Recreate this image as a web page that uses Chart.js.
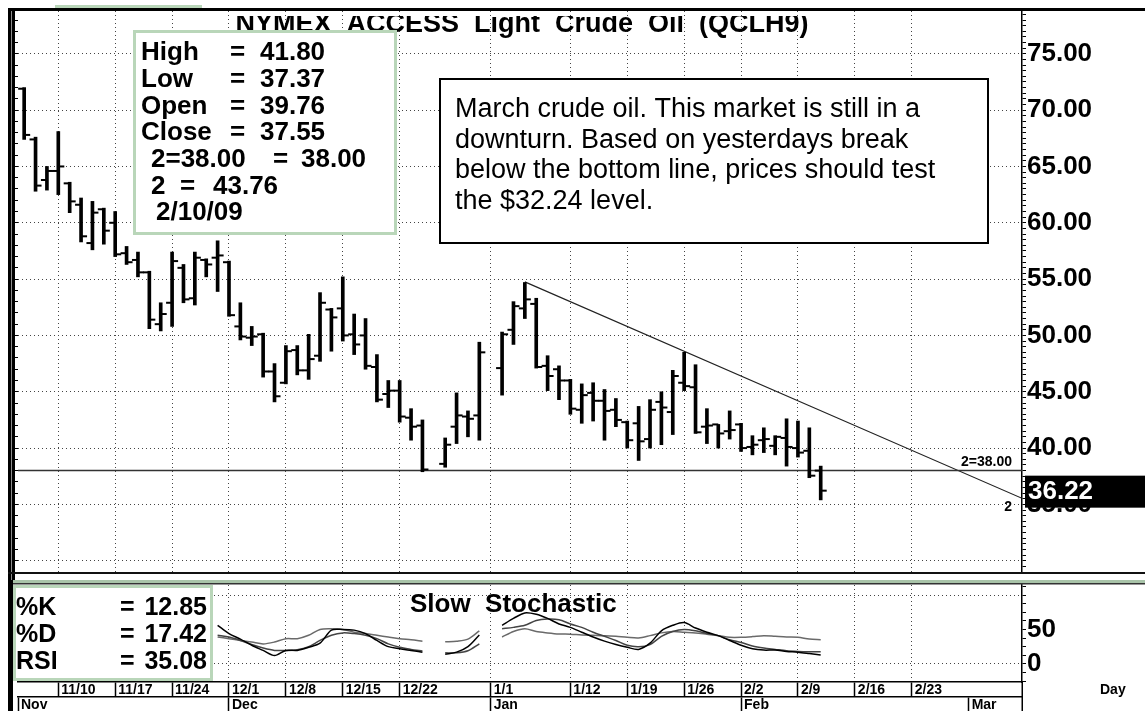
<!DOCTYPE html>
<html>
<head>
<meta charset="utf-8">
<script src="https://cdn.jsdelivr.net/npm/chart.js@4.4.1/dist/chart.umd.min.js"></script>
<style>
  html, body { margin: 0; padding: 0; background: #fff; }
  #wrap { position: relative; width: 1145px; height: 711px; overflow: hidden; background: #fff; }
  #price { position: absolute; left: 0; top: 0; }
  #stoch { position: absolute; left: 0; top: 580px; }
</style>
</head>
<body>
<div id="wrap">
  <canvas id="price" width="1145" height="580"></canvas>
  <canvas id="stoch" width="1145" height="131"></canvas>
</div>
<script>
// daily bars, NYMEX ACCESS light crude (QCLH9)
var dates = [
  '2008-11-05', '2008-11-06', '2008-11-07',
  '2008-11-10', '2008-11-11', '2008-11-12', '2008-11-13', '2008-11-14',
  '2008-11-17', '2008-11-18', '2008-11-19', '2008-11-20', '2008-11-21',
  '2008-11-24', '2008-11-25', '2008-11-26', '2008-11-27', '2008-11-28',
  '2008-12-01', '2008-12-02', '2008-12-03', '2008-12-04', '2008-12-05',
  '2008-12-08', '2008-12-09', '2008-12-10', '2008-12-11', '2008-12-12',
  '2008-12-15', '2008-12-16', '2008-12-17', '2008-12-18', '2008-12-19',
  '2008-12-22', '2008-12-23', '2008-12-24', '2008-12-26',
  '2008-12-29', '2008-12-30', '2008-12-31', '2009-01-02',
  '2009-01-05', '2009-01-06', '2009-01-07', '2009-01-08', '2009-01-09',
  '2009-01-12', '2009-01-13', '2009-01-14', '2009-01-15', '2009-01-16',
  '2009-01-19', '2009-01-20', '2009-01-21', '2009-01-22', '2009-01-23',
  '2009-01-26', '2009-01-27', '2009-01-28', '2009-01-29', '2009-01-30',
  '2009-02-02', '2009-02-03', '2009-02-04', '2009-02-05', '2009-02-06',
  '2009-02-09', '2009-02-10', '2009-02-11'
];
var open = [
  71.9, 67.4, 63.8, 64.6, 63.5, 61.6, 58.2, 61.2, 60.0, 57.3,
  56.7, 55.6, 51.0, 52.9, 56.0, 53.3, 56.7, 56.9, 56.5, 50.8,
  49.8, 50.1, 46.8, 45.8, 48.7, 46.9, 48.2, 52.3, 52.4, 50.1,
  50.0, 47.2, 44.8, 45.1, 42.7, 42.0, 38.6, 41.9, 42.8, 42.9,
  47.1, 50.5, 52.4, 52.8, 47.3, 47.0, 46.0, 43.4, 44.9, 44.2,
  43.4, 42.3, 42.2, 40.8, 44.1, 43.2, 45.8, 45.4, 41.9, 42.1,
  41.5, 42.1, 40.1, 40.7, 40.2, 40.9, 40.0, 39.76, 38.0
];
var high = [
  72.0, 67.6, 65.0, 68.1, 63.6, 62.2, 61.9, 61.3, 61.0, 57.9,
  57.4, 55.7, 52.9, 57.4, 56.3, 57.4, 56.8, 58.4, 56.6, 52.9,
  50.8, 50.2, 47.5, 49.1, 49.1, 50.1, 53.8, 52.4, 55.2, 51.9,
  51.5, 48.3, 46.0, 46.0, 43.5, 42.5, 40.9, 44.9, 43.3, 49.4,
  50.3, 53.0, 54.7, 53.3, 48.2, 47.3, 46.1, 45.7, 45.8, 45.2,
  44.4, 42.4, 43.7, 44.3, 45.0, 46.9, 48.5, 47.4, 43.5, 42.1,
  43.3, 42.2, 41.1, 41.8, 41.1, 42.6, 42.4, 41.80, 38.4
];
var low = [
  67.4, 62.8, 62.9, 62.5, 60.9, 58.3, 57.6, 58.1, 57.0, 56.3,
  55.2, 50.6, 50.4, 50.8, 52.9, 52.7, 55.2, 53.9, 51.7, 49.6,
  49.1, 46.3, 44.1, 45.7, 46.5, 46.1, 47.7, 48.6, 49.5, 48.3,
  47.0, 44.1, 43.6, 42.3, 40.7, 37.9, 38.3, 40.4, 41.0, 40.7,
  44.7, 49.2, 51.5, 47.1, 45.1, 44.3, 43.0, 42.2, 42.4, 40.7,
  41.9, 40.0, 38.9, 40.0, 40.3, 41.2, 45.1, 41.3, 40.4, 40.0,
  40.8, 39.7, 39.4, 39.6, 39.4, 38.4, 39.2, 37.37, 35.4
];
var close = [
  67.8, 63.3, 64.6, 65.0, 61.9, 58.8, 60.9, 59.3, 57.2, 56.5,
  55.6, 51.4, 51.9, 56.6, 53.2, 56.9, 56.3, 57.1, 51.8, 49.9,
  49.9, 46.8, 44.6, 48.6, 46.9, 47.9, 52.9, 51.6, 50.0, 49.2,
  47.3, 44.3, 45.1, 42.8, 41.9, 38.1, 40.3, 42.9, 42.6, 48.5,
  50.1, 52.6, 53.2, 47.2, 46.4, 46.0, 43.5, 44.7, 44.2, 43.3,
  42.5, 40.7, 40.6, 43.4, 43.6, 46.4, 45.5, 41.4, 42.0, 41.3,
  41.6, 40.0, 40.3, 40.8, 41.0, 40.1, 39.6, 37.55, 36.22
];

// lower panel, same days as above (hidden behind the readout box before 11/28)
var pctK = [
  null, null, null, null, null, null, null, null, null, null, null, null, null, null, null, null, null,
  56, 44, 36, 27, 19.5, 12, 19.5, 19.5, 24, 30, 49, 50, 49, 44, 34, 25, 22, 19.5, 17,
  14, 17, 25, 42,
  56, 66, 74, 72, 66, 58, 53, 46, 39, 33, 28, 24, 21, 30, 48, 56, 60, 52, 46, 41,
  34, 27, 22, 20, 20, 18, 17, 15, 12.85
];
var pctD = [
  null, null, null, null, null, null, null, null, null, null, null, null, null, null, null, null, null,
  41.5, 39, 34, 28, 23, 19.5, 19.5, 20.5, 25, 34, 41.5, 45, 44, 41.5, 36.6, 29, 24, 21, 18.5,
  16, 16, 19, 29,
  51, 53, 56, 63, 65, 64, 58, 53, 46, 40, 34, 27, 25, 28, 40, 47, 50, 48, 44, 41,
  35, 31, 26, 23, 21, 19, 18, 17.5, 17.42
];
var rsi = [
  null, null, null, null, null, null, null, null, null, null, null, null, null, null, null, null, null,
  39, 36.6, 34, 31.7, 29, 31.7, 36.6, 36.6, 41.5, 50, 51, 50, 46, 44, 41.5, 39, 36.6, 35, 33,
  32, 33, 36, 48,
  39, 47, 51, 47, 45, 43.5, 43, 42, 41.5, 41, 40, 38.6, 37.7, 41, 45, 47, 46, 45, 43, 41,
  38.6, 38.6, 39.6, 41, 40, 39, 38.6, 36, 35.08
];

var weekTicks = ['2008-11-10', '2008-11-17', '2008-11-24', '2008-12-01', '2008-12-08', '2008-12-15', '2008-12-22',
  '2009-01-01', '2009-01-12', '2009-01-19', '2009-01-26', '2009-02-02', '2009-02-09', '2009-02-16', '2009-02-23'];
var weekLabels = ['11/10', '11/17', '11/24', '12/1', '12/8', '12/15', '12/22', '1/1', '1/12', '1/19', '1/26', '2/2', '2/9', '2/16', '2/23'];
var monthTicks = ['2008-11-01', '2008-12-01', '2009-01-01', '2009-02-01', '2009-03-01'];
var monthLabels = ['Nov', 'Dec', 'Jan', 'Feb', 'Mar'];

// drawn lines
var supportLevel = 38.00;
var trendDates = ['2009-01-06', '2009-02-10'];
var trendValues = [54.75, 43.76];

var note = [
  'March crude oil. This market is still in a',
  'downturn. Based on yesterdays break',
  'below the bottom line, prices should test',
  'the $32.24 level.'
];

var FONT = "'Liberation Sans', Arial, Helvetica, sans-serif";
var X_MIN = 1.458, X_MAX = 89.69;
var P_MIN = 29.0, P_MAX = 78.8;
var S_MIN = -26.4, S_MAX = 114.6;

Chart.defaults.font.family = FONT;

// weekday slot counted from Monday 2008-11-03, weekend dates snap to the next Monday
function dayIndex(s) {
  var days = Math.round((Date.parse(s + 'T00:00:00Z') - Date.UTC(2008, 10, 3)) / 864e5);
  var w = Math.floor(days / 7), r = days - w * 7;
  return w * 5 + Math.min(r, 5);
}

var xDays = dates.map(dayIndex);

function trendAt(x) {
  var x0 = dayIndex(trendDates[0]), x1 = dayIndex(trendDates[1]);
  return trendValues[0] + (trendValues[1] - trendValues[0]) * (x - x0) / (x1 - x0);
}

// break the indicator lines over the holiday slots
function series(vals) {
  var out = [];
  for (var k = 0; k < vals.length; k++) {
    if (k > 0 && xDays[k] - xDays[k - 1] > 1) out.push({ x: xDays[k] - 1, y: null });
    out.push({ x: xDays[k], y: vals[k] });
  }
  return out;
}

function fixedTicks(from, to, step) {
  var t = [];
  for (var v = from; v <= to + 1e-9; v += step) t.push({ value: Math.round(v * 100) / 100 });
  return t;
}

function bold(size) { return 'bold ' + size + 'px ' + FONT; }

var priceOverlay = {
  id: 'priceOverlay',
  afterDraw: function(chart) {
    var ctx = chart.ctx, a = chart.chartArea, ys = chart.scales.y;
    ctx.save();

    // frame
    ctx.fillStyle = '#000';
    ctx.fillRect(8, 8, 1137, 3);
    ctx.fillRect(8, 8, 7, 572);
    ctx.fillStyle = '#8c8c8c';
    ctx.fillRect(11, 11, 1, 569);
    ctx.fillStyle = '#b9d6b9';
    ctx.fillRect(55, 5, 147, 3);
    ctx.fillStyle = '#111';
    ctx.fillRect(8, a.bottom, 1137, 2);

    // title, its top is cut off by the window edge
    ctx.save();
    ctx.beginPath();
    ctx.rect(a.left, 16, a.right - a.left, 40);
    ctx.clip();
    ctx.fillStyle = '#000';
    ctx.font = bold(27);
    ctx.textAlign = 'center';
    ctx.textBaseline = 'alphabetic';
    ctx.fillText('NYMEX  ACCESS  Light  Crude  Oil  (QCLH9)', 522, 32);
    ctx.restore();

    // readout box
    var k = dates.indexOf('2009-02-10');
    ctx.fillStyle = '#fff';
    ctx.fillRect(133, 30, 264, 205);
    ctx.strokeStyle = '#b9d6b9';
    ctx.lineWidth = 3;
    ctx.strokeRect(134.5, 31.5, 261, 202);
    ctx.fillStyle = '#000';
    ctx.font = bold(26);
    ctx.textAlign = 'left';
    ctx.textBaseline = 'middle';
    var rows = [
      [['High', 141], ['=', 230], [high[k].toFixed(2), 260]],
      [['Low', 141], ['=', 230], [low[k].toFixed(2), 260]],
      [['Open', 141], ['=', 230], [open[k].toFixed(2), 260]],
      [['Close', 141], ['=', 230], [close[k].toFixed(2), 260]],
      [['2=' + supportLevel.toFixed(2), 151], ['=', 273], [supportLevel.toFixed(2), 301]],
      [['2', 151], ['=', 180], [trendAt(xDays[k]).toFixed(2), 213]],
      [['2/10/09', 156]]
    ];
    rows.forEach(function(r, i) {
      r.forEach(function(p) { ctx.fillText(p[0], p[1], 53 + i * 26.7); });
    });

    // comment box
    ctx.fillStyle = '#fff';
    ctx.fillRect(439, 78, 550, 166);
    ctx.strokeStyle = '#000';
    ctx.lineWidth = 2;
    ctx.strokeRect(440, 79, 548, 164);
    ctx.fillStyle = '#000';
    ctx.font = '27px ' + FONT;
    note.forEach(function(line, i) { ctx.fillText(line, 455, 110 + i * 30.5); });

    // line labels
    var ySup = ys.getPixelForValue(supportLevel);
    ctx.font = bold(14);
    ctx.textAlign = 'right';
    ctx.textBaseline = 'alphabetic';
    ctx.fillText('2=' + supportLevel.toFixed(2), 1012, ySup - 5);
    ctx.fillText('2', 1012, ys.getPixelForValue(trendAt(X_MAX)) + 13);

    // last price marker
    var last = close[close.length - 1];
    var yl = ys.getPixelForValue(last);
    ctx.fillStyle = '#000';
    ctx.fillRect(a.right + 3, yl - 15, 1145 - a.right - 3, 32);
    ctx.fillStyle = '#fff';
    ctx.font = bold(26);
    ctx.textAlign = 'left';
    ctx.textBaseline = 'middle';
    ctx.fillText(last.toFixed(2), 1028, yl + 1);

    ctx.restore();
  }
};

var stochOverlay = {
  id: 'stochOverlay',
  afterDraw: function(chart) {
    var ctx = chart.ctx, a = chart.chartArea;
    ctx.save();

    // divider between panels and left edge
    ctx.fillStyle = '#a9c4a9';
    ctx.fillRect(8, 0, 1137, 3);
    ctx.fillStyle = '#333';
    ctx.fillRect(8, 3, 1137, 1.5);
    ctx.fillStyle = '#000';
    ctx.fillRect(8, 0, 5, 131);
    ctx.fillRect(a.right - 0.5, a.bottom, 1.5, 131 - a.bottom);

    // readout box
    ctx.fillStyle = '#fff';
    ctx.fillRect(13, 5, 200, 96);
    ctx.strokeStyle = '#b9d6b9';
    ctx.lineWidth = 3;
    ctx.strokeRect(14.5, 6.5, 197, 93);
    ctx.fillStyle = '#000';
    ctx.font = bold(25);
    ctx.textBaseline = 'middle';
    var names = ['%K', '%D', 'RSI'];
    var lasts = [pctK, pctD, rsi].map(function(s) { return s[s.length - 1]; });
    names.forEach(function(n, i) {
      var y = 28 + i * 27;
      ctx.textAlign = 'left';
      ctx.fillText(n, 16, y);
      ctx.fillText('=', 120, y);
      ctx.textAlign = 'right';
      ctx.fillText(lasts[i].toFixed(2), 207, y);
    });

    ctx.textAlign = 'left';
    ctx.font = bold(26);
    ctx.fillText('Slow  Stochastic', 410, 25);

    ctx.font = bold(14);
    ctx.fillText('Day', 1100, 110);
    ctx.restore();
  }
};

var rangeData = dates.map(function(d, k) { return { x: xDays[k], y: [low[k], high[k]] }; });
var openData = dates.map(function(d, k) { return { x: xDays[k], y: open[k] }; });
var closeData = dates.map(function(d, k) { return { x: xDays[k], y: close[k] }; });

var priceChart = new Chart(document.getElementById('price'), {
  type: 'bar',
  data: {
    datasets: [{
      label: 'High-Low',
      data: rangeData,
      backgroundColor: '#000',
      borderWidth: 0,
      barThickness: 3,
      yAxisID: 'y'
    }, {
      type: 'scatter',
      label: 'Open',
      data: openData,
      pointStyle: 'dash',
      pointRotation: 180,
      pointRadius: 6,
      pointBorderWidth: 2,
      pointBorderColor: '#000',
      pointBackgroundColor: '#000',
      yAxisID: 'y'
    }, {
      type: 'scatter',
      label: 'Close',
      data: closeData,
      pointStyle: 'dash',
      pointRotation: 0,
      pointRadius: 6,
      pointBorderWidth: 2,
      pointBorderColor: '#000',
      pointBackgroundColor: '#000',
      yAxisID: 'y'
    }, {
      type: 'line',
      label: '2=38.00',
      data: [{ x: X_MIN, y: supportLevel }, { x: X_MAX, y: supportLevel }],
      borderColor: '#333',
      borderWidth: 1.5,
      pointRadius: 0,
      yAxisID: 'y'
    }, {
      type: 'line',
      label: '2',
      data: [
        { x: dayIndex(trendDates[0]), y: trendValues[0] },
        { x: dayIndex(trendDates[1]), y: trendValues[1] },
        { x: X_MAX, y: trendAt(X_MAX) }
      ],
      borderColor: '#222',
      borderWidth: 1.2,
      pointRadius: 0,
      yAxisID: 'y'
    }]
  },
  options: {
    responsive: false,
    animation: false,
    devicePixelRatio: 1,
    events: [],
    layout: { padding: { top: 11, bottom: 3, left: 0, right: 0 } },
    plugins: { legend: { display: false }, tooltip: { enabled: false } },
    scales: {
      x: {
        type: 'linear',
        min: X_MIN,
        max: X_MAX,
        offset: false,
        afterBuildTicks: function(s) { s.ticks = weekTicks.map(function(d) { return { value: dayIndex(d) }; }); },
        ticks: { display: false },
        grid: { offset: false, color: '#444', drawTicks: false, lineWidth: 1 },
        border: { display: false, dash: [1, 3] },
        afterFit: function(s) { s.height = 0; s.paddingLeft = 0; s.paddingRight = 0; }
      },
      y: {
        position: 'right',
        min: P_MIN,
        max: P_MAX,
        afterBuildTicks: function(s) { s.ticks = fixedTicks(29, 78.5, 0.5); },
        ticks: {
          autoSkip: false,
          padding: 1,
          color: '#000',
          font: { size: 26, weight: 'bold' },
          callback: function(v) { return (v % 5 === 0 && v > 30) ? v.toFixed(2) : ''; }
        },
        grid: {
          color: function(c) { return c.tick && c.tick.value % 5 === 0 ? '#444' : 'rgba(0,0,0,0)'; },
          tickColor: '#000',
          tickLength: 4,
          lineWidth: 1
        },
        border: { color: '#000', width: 1.5, dash: [1, 3] },
        afterFit: function(s) { s.width = 123; s.paddingTop = 0; s.paddingBottom = 0; }
      },
      yl: {
        position: 'left',
        min: P_MIN,
        max: P_MAX,
        afterBuildTicks: function(s) { s.ticks = fixedTicks(29, 78, 1); },
        ticks: { display: false },
        grid: { drawOnChartArea: false, color: '#000', tickLength: 3 },
        border: { display: false },
        afterFit: function(s) { s.width = 18; s.paddingTop = 0; s.paddingBottom = 0; }
      }
    }
  },
  plugins: [priceOverlay]
});

var stochChart = new Chart(document.getElementById('stoch'), {
  type: 'line',
  data: {
    datasets: [
      { label: '%K', data: series(pctK), borderColor: '#000', borderWidth: 1.5 },
      { label: '%D', data: series(pctD), borderColor: '#444', borderWidth: 1.5 },
      { label: 'RSI', data: series(rsi), borderColor: '#6a6a6a', borderWidth: 1.5 }
    ]
  },
  options: {
    responsive: false,
    animation: false,
    devicePixelRatio: 1,
    events: [],
    spanGaps: false,
    elements: { point: { radius: 0 }, line: { tension: 0.3 } },
    layout: { padding: { top: 5, bottom: 0, left: 18, right: 0 } },
    plugins: { legend: { display: false }, tooltip: { enabled: false } },
    scales: {
      x: {
        type: 'linear',
        position: 'bottom',
        weight: 1,
        min: X_MIN,
        max: X_MAX,
        offset: false,
        afterBuildTicks: function(s) { s.ticks = weekTicks.map(function(d) { return { value: dayIndex(d) }; }); },
        ticks: {
          autoSkip: false,
          maxRotation: 0,
          minRotation: 0,
          align: 'start',
          labelOffset: 3,
          padding: -14,
          color: '#000',
          font: { size: 14, weight: 'bold' },
          callback: function(v, i) { return weekLabels[i]; }
        },
        grid: { color: '#444', tickColor: '#000', tickLength: 14, tickWidth: 1.5, lineWidth: 1 },
        border: { color: '#000', width: 1.5, dash: [1, 3] },
        afterFit: function(s) { s.height = 15; s.paddingLeft = 0; s.paddingRight = 0; }
      },
      xm: {
        type: 'linear',
        position: 'bottom',
        weight: 2,
        min: X_MIN,
        max: X_MAX,
        offset: false,
        afterBuildTicks: function(s) {
          s.ticks = monthTicks.map(function(d) { return { value: Math.max(X_MIN, dayIndex(d)) }; });
        },
        ticks: {
          autoSkip: false,
          maxRotation: 0,
          minRotation: 0,
          align: 'start',
          labelOffset: 3,
          padding: -14,
          color: '#000',
          font: { size: 14, weight: 'bold' },
          callback: function(v, i) { return monthLabels[i]; }
        },
        grid: { drawOnChartArea: false, color: '#000', tickLength: 14, tickWidth: 1.5 },
        border: { color: '#000', width: 1.5 },
        afterFit: function(s) { s.height = 14; s.paddingLeft = 0; s.paddingRight = 0; }
      },
      y: {
        position: 'right',
        min: S_MIN,
        max: S_MAX,
        afterBuildTicks: function(s) { s.ticks = fixedTicks(-25, 112.5, 12.5); },
        ticks: {
          autoSkip: false,
          padding: 1,
          color: '#000',
          font: { size: 26, weight: 'bold' },
          callback: function(v) { return (v === 0 || v === 50) ? String(v) : ''; }
        },
        grid: {
          color: function(c) { return c.tick && (c.tick.value === 0 || c.tick.value === 100) ? '#444' : 'rgba(0,0,0,0)'; },
          tickColor: '#000',
          tickLength: 4
        },
        border: { color: '#000', width: 1.5, dash: [1, 3] },
        afterFit: function(s) { s.width = 123; s.paddingTop = 0; s.paddingBottom = 0; }
      }
    }
  },
  plugins: [stochOverlay]
});
</script>
</body>
</html>
